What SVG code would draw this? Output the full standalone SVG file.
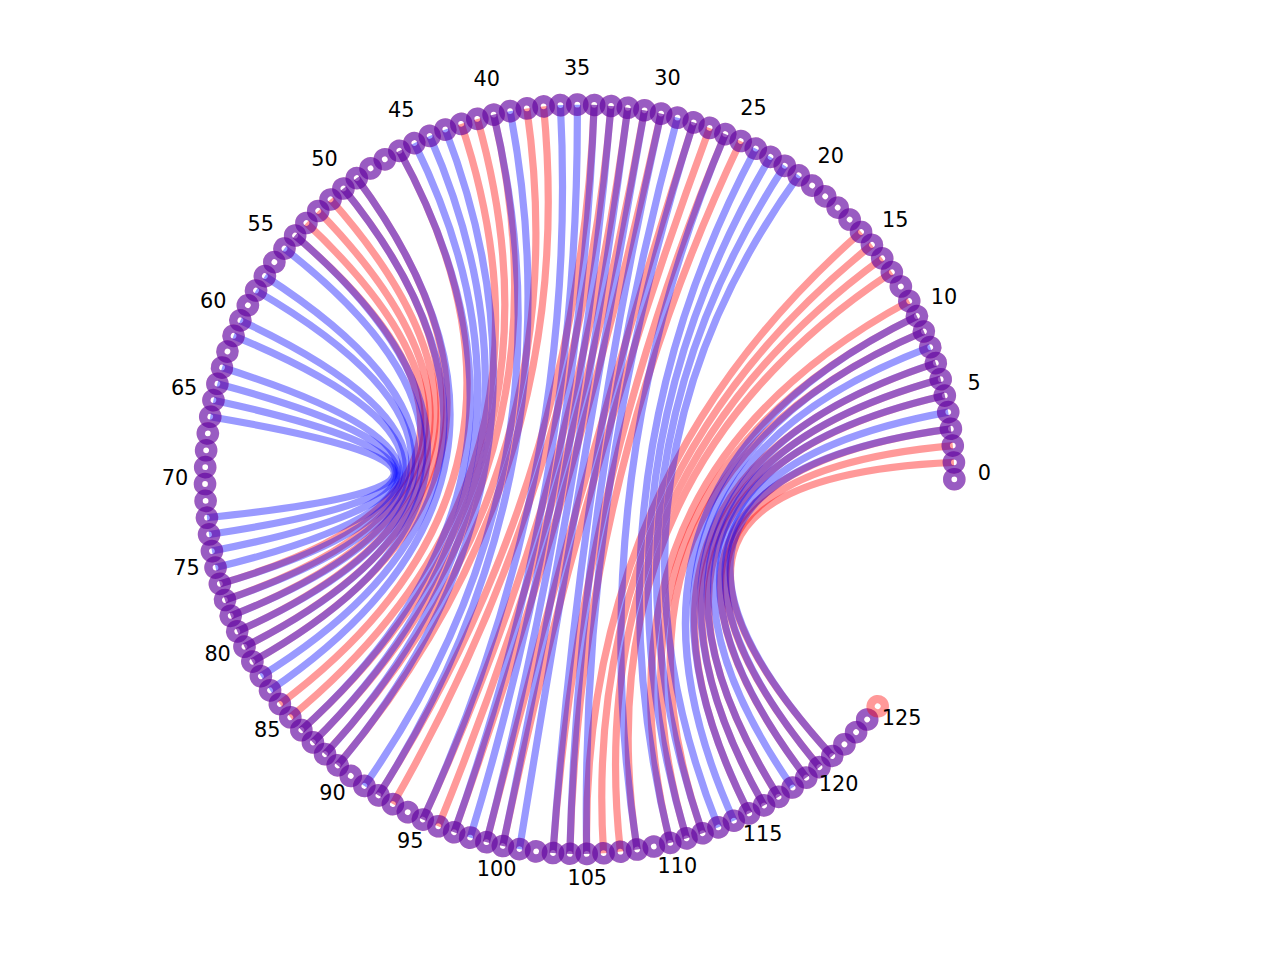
<svg xmlns="http://www.w3.org/2000/svg" xmlns:xlink="http://www.w3.org/1999/xlink" width="1280" height="960" viewBox="0 0 1280 960">
<style>
.r{fill:none;stroke:#ff0000;stroke-opacity:0.4;stroke-width:7.2}
.b{fill:none;stroke:#0000ff;stroke-opacity:0.4;stroke-width:7.2}
.nr{fill:none;stroke:#ff0000;stroke-opacity:0.4;stroke-width:8.4}
.nb{fill:none;stroke:#0000ff;stroke-opacity:0.4;stroke-width:8.4}
text{font-family:"DejaVu Sans","Liberation Sans",sans-serif;font-size:20.8px;fill:#000;text-anchor:middle}
</style>
<defs>
<g id="ring"><circle class="nr" cx="954.3" cy="479.3" r="7.1"/><circle class="nb" cx="954.3" cy="479.3" r="7.1"/></g>
<circle id="ringR" class="nr" cx="954.3" cy="479.3" r="7.1"/>
</defs>
<rect width="1280" height="960" fill="#ffffff"/>
<g id="connectors">
<g id="red-edges">
<path class="r" d="M295.15 235.56Q579.65 479.3 219.9 583.88"/>
<path class="r" d="M306.41 222.98Q579.65 479.3 224.98 599.98"/>
<path class="r" d="M318.24 210.94Q579.65 479.3 230.78 615.83"/>
<path class="r" d="M330.59 199.44Q579.65 479.3 237.27 631.41"/>
<path class="r" d="M343.45 188.5Q579.65 479.3 244.48 646.67"/>
<path class="r" d="M356.79 178.16Q579.65 479.3 252.35 661.6"/>
<path class="r" d="M399.41 150.87Q579.65 479.3 279.91 704.05"/>
<path class="r" d="M461.2 123.88Q579.65 479.3 290.34 717.32"/>
<path class="r" d="M477.33 118.9Q579.65 479.3 301.34 730.12"/>
<path class="r" d="M493.67 114.66Q579.65 479.3 312.94 742.39"/>
<path class="r" d="M526.83 108.4Q579.65 479.3 325.05 754.14"/>
<path class="r" d="M543.59 106.4Q579.65 479.3 337.69 765.33"/>
<path class="r" d="M594.18 104.94Q579.65 479.3 378.45 795.32"/>
<path class="r" d="M611.02 105.98Q579.65 479.3 392.88 804.07"/>
<path class="r" d="M627.81 107.77Q579.65 479.3 422.87 819.56"/>
<path class="r" d="M644.5 110.31Q579.65 479.3 438.36 826.28"/>
<path class="r" d="M661.05 113.61Q579.65 479.3 454.13 832.28"/>
<path class="r" d="M693.63 122.42Q579.65 479.3 486.41 842.15"/>
<path class="r" d="M709.59 127.92Q579.65 479.3 502.85 845.99"/>
<path class="r" d="M725.29 134.12Q579.65 479.3 552.96 852.99"/>
<path class="r" d="M740.68 141.04Q579.65 479.3 569.82 853.81"/>
<path class="r" d="M861.07 232Q579.65 479.3 586.7 853.88"/>
<path class="r" d="M871.92 244.93Q579.65 479.3 603.57 853.17"/>
<path class="r" d="M882.19 258.33Q579.65 479.3 620.38 851.72"/>
<path class="r" d="M891.83 272.19Q579.65 479.3 637.12 849.51"/>
<path class="r" d="M909.2 301.12Q579.65 479.3 670.2 842.84"/>
<path class="r" d="M916.9 316.15Q579.65 479.3 686.48 838.38"/>
<path class="r" d="M923.9 331.5Q579.65 479.3 702.55 833.21"/>
<path class="r" d="M935.81 363.08Q579.65 479.3 749.12 813.42"/>
<path class="r" d="M940.68 379.25Q579.65 479.3 764 805.44"/>
<path class="r" d="M944.83 395.61Q579.65 479.3 778.51 796.81"/>
<path class="r" d="M950.87 428.81Q579.65 479.3 806.27 777.62"/>
<path class="r" d="M952.77 445.58Q579.65 479.3 819.48 767.11"/>
<path class="r" d="M953.91 462.43Q579.65 479.3 832.2 756.02"/>
</g>
<g id="blue-edges">
<path class="b" d="M210.27 416.77Q579.65 479.3 206.98 517.7"/>
<path class="b" d="M213.46 400.2Q579.65 479.3 209.09 534.44"/>
<path class="b" d="M217.39 383.78Q579.65 479.3 211.94 551.08"/>
<path class="b" d="M222.06 367.56Q579.65 479.3 215.56 567.57"/>
<path class="b" d="M233.57 335.83Q579.65 479.3 219.9 583.88"/>
<path class="b" d="M240.38 320.39Q579.65 479.3 224.98 599.98"/>
<path class="b" d="M256.06 290.5Q579.65 479.3 230.78 615.83"/>
<path class="b" d="M264.89 276.12Q579.65 479.3 237.27 631.41"/>
<path class="b" d="M284.45 248.61Q579.65 479.3 244.48 646.67"/>
<path class="b" d="M295.15 235.56Q579.65 479.3 252.35 661.6"/>
<path class="b" d="M343.45 188.5Q579.65 479.3 260.9 676.16"/>
<path class="b" d="M356.79 178.16Q579.65 479.3 270.09 690.32"/>
<path class="b" d="M399.41 150.87Q579.65 479.3 301.34 730.12"/>
<path class="b" d="M414.38 143.08Q579.65 479.3 312.94 742.39"/>
<path class="b" d="M429.7 135.98Q579.65 479.3 325.05 754.14"/>
<path class="b" d="M445.31 129.57Q579.65 479.3 337.69 765.33"/>
<path class="b" d="M493.67 114.66Q579.65 479.3 364.41 785.95"/>
<path class="b" d="M510.18 111.16Q579.65 479.3 378.45 795.32"/>
<path class="b" d="M560.43 105.15Q579.65 479.3 422.87 819.56"/>
<path class="b" d="M577.3 104.66Q579.65 479.3 454.13 832.28"/>
<path class="b" d="M594.18 104.94Q579.65 479.3 470.15 837.59"/>
<path class="b" d="M611.02 105.98Q579.65 479.3 486.41 842.15"/>
<path class="b" d="M627.81 107.77Q579.65 479.3 502.85 845.99"/>
<path class="b" d="M644.5 110.31Q579.65 479.3 519.44 849.07"/>
<path class="b" d="M661.05 113.61Q579.65 479.3 552.96 852.99"/>
<path class="b" d="M677.44 117.64Q579.65 479.3 569.82 853.81"/>
<path class="b" d="M693.63 122.42Q579.65 479.3 586.7 853.88"/>
<path class="b" d="M725.29 134.12Q579.65 479.3 637.12 849.51"/>
<path class="b" d="M755.76 148.63Q579.65 479.3 670.2 842.84"/>
<path class="b" d="M770.47 156.9Q579.65 479.3 686.48 838.38"/>
<path class="b" d="M784.8 165.82Q579.65 479.3 702.55 833.21"/>
<path class="b" d="M798.71 175.38Q579.65 479.3 718.37 827.31"/>
<path class="b" d="M916.9 316.15Q579.65 479.3 733.9 820.71"/>
<path class="b" d="M923.9 331.5Q579.65 479.3 749.12 813.42"/>
<path class="b" d="M930.21 347.16Q579.65 479.3 764 805.44"/>
<path class="b" d="M935.81 363.08Q579.65 479.3 778.51 796.81"/>
<path class="b" d="M940.68 379.25Q579.65 479.3 792.6 787.53"/>
<path class="b" d="M944.83 395.61Q579.65 479.3 806.27 777.62"/>
<path class="b" d="M948.22 412.14Q579.65 479.3 819.48 767.11"/>
<path class="b" d="M950.87 428.81Q579.65 479.3 832.2 756.02"/>
</g>
</g>
<g id="nodes">
<g id="node-0"><use xlink:href="#ring"/><text x="984.3" y="480.1">0</text></g>
<g id="node-1"><use xlink:href="#ring" transform="rotate(-2.58 579.65 479.3)"/></g>
<g id="node-2"><use xlink:href="#ring" transform="rotate(-5.16 579.65 479.3)"/></g>
<g id="node-3"><use xlink:href="#ring" transform="rotate(-7.75 579.65 479.3)"/></g>
<g id="node-4"><use xlink:href="#ring" transform="rotate(-10.33 579.65 479.3)"/></g>
<g id="node-5"><use xlink:href="#ring" transform="rotate(-12.91 579.65 479.3)"/><text x="974.07" y="389.7">5</text></g>
<g id="node-6"><use xlink:href="#ring" transform="rotate(-15.49 579.65 479.3)"/></g>
<g id="node-7"><use xlink:href="#ring" transform="rotate(-18.07 579.65 479.3)"/></g>
<g id="node-8"><use xlink:href="#ring" transform="rotate(-20.65 579.65 479.3)"/></g>
<g id="node-9"><use xlink:href="#ring" transform="rotate(-23.24 579.65 479.3)"/></g>
<g id="node-10"><use xlink:href="#ring" transform="rotate(-25.82 579.65 479.3)"/><text x="943.91" y="303.88">10</text></g>
<g id="node-11"><use xlink:href="#ring" transform="rotate(-28.40 579.65 479.3)"/></g>
<g id="node-12"><use xlink:href="#ring" transform="rotate(-30.98 579.65 479.3)"/></g>
<g id="node-13"><use xlink:href="#ring" transform="rotate(-33.56 579.65 479.3)"/></g>
<g id="node-14"><use xlink:href="#ring" transform="rotate(-36.14 579.65 479.3)"/></g>
<g id="node-15"><use xlink:href="#ring" transform="rotate(-38.73 579.65 479.3)"/><text x="895.33" y="226.96">15</text></g>
<g id="node-16"><use xlink:href="#ring" transform="rotate(-41.31 579.65 479.3)"/></g>
<g id="node-17"><use xlink:href="#ring" transform="rotate(-43.89 579.65 479.3)"/></g>
<g id="node-18"><use xlink:href="#ring" transform="rotate(-46.47 579.65 479.3)"/></g>
<g id="node-19"><use xlink:href="#ring" transform="rotate(-49.05 579.65 479.3)"/></g>
<g id="node-20"><use xlink:href="#ring" transform="rotate(-51.63 579.65 479.3)"/><text x="830.8" y="162.84">20</text></g>
<g id="node-21"><use xlink:href="#ring" transform="rotate(-54.22 579.65 479.3)"/></g>
<g id="node-22"><use xlink:href="#ring" transform="rotate(-56.80 579.65 479.3)"/></g>
<g id="node-23"><use xlink:href="#ring" transform="rotate(-59.38 579.65 479.3)"/></g>
<g id="node-24"><use xlink:href="#ring" transform="rotate(-61.96 579.65 479.3)"/></g>
<g id="node-25"><use xlink:href="#ring" transform="rotate(-64.54 579.65 479.3)"/><text x="753.58" y="114.75">25</text></g>
<g id="node-26"><use xlink:href="#ring" transform="rotate(-67.12 579.65 479.3)"/></g>
<g id="node-27"><use xlink:href="#ring" transform="rotate(-69.71 579.65 479.3)"/></g>
<g id="node-28"><use xlink:href="#ring" transform="rotate(-72.29 579.65 479.3)"/></g>
<g id="node-29"><use xlink:href="#ring" transform="rotate(-74.87 579.65 479.3)"/></g>
<g id="node-30"><use xlink:href="#ring" transform="rotate(-77.45 579.65 479.3)"/><text x="667.57" y="85.13">30</text></g>
<g id="node-31"><use xlink:href="#ring" transform="rotate(-80.03 579.65 479.3)"/></g>
<g id="node-32"><use xlink:href="#ring" transform="rotate(-82.61 579.65 479.3)"/></g>
<g id="node-33"><use xlink:href="#ring" transform="rotate(-85.20 579.65 479.3)"/></g>
<g id="node-34"><use xlink:href="#ring" transform="rotate(-87.78 579.65 479.3)"/></g>
<g id="node-35"><use xlink:href="#ring" transform="rotate(-90.36 579.65 479.3)"/><text x="577.11" y="75.46">35</text></g>
<g id="node-36"><use xlink:href="#ring" transform="rotate(-92.94 579.65 479.3)"/></g>
<g id="node-37"><use xlink:href="#ring" transform="rotate(-95.52 579.65 479.3)"/></g>
<g id="node-38"><use xlink:href="#ring" transform="rotate(-98.10 579.65 479.3)"/></g>
<g id="node-39"><use xlink:href="#ring" transform="rotate(-100.69 579.65 479.3)"/></g>
<g id="node-40"><use xlink:href="#ring" transform="rotate(-103.27 579.65 479.3)"/><text x="486.78" y="86.26">40</text></g>
<g id="node-41"><use xlink:href="#ring" transform="rotate(-105.85 579.65 479.3)"/></g>
<g id="node-42"><use xlink:href="#ring" transform="rotate(-108.43 579.65 479.3)"/></g>
<g id="node-43"><use xlink:href="#ring" transform="rotate(-111.01 579.65 479.3)"/></g>
<g id="node-44"><use xlink:href="#ring" transform="rotate(-113.59 579.65 479.3)"/></g>
<g id="node-45"><use xlink:href="#ring" transform="rotate(-116.18 579.65 479.3)"/><text x="401.15" y="116.96">45</text></g>
<g id="node-46"><use xlink:href="#ring" transform="rotate(-118.76 579.65 479.3)"/></g>
<g id="node-47"><use xlink:href="#ring" transform="rotate(-121.34 579.65 479.3)"/></g>
<g id="node-48"><use xlink:href="#ring" transform="rotate(-123.92 579.65 479.3)"/></g>
<g id="node-49"><use xlink:href="#ring" transform="rotate(-126.50 579.65 479.3)"/></g>
<g id="node-50"><use xlink:href="#ring" transform="rotate(-129.09 579.65 479.3)"/><text x="324.53" y="166.01">50</text></g>
<g id="node-51"><use xlink:href="#ring" transform="rotate(-131.67 579.65 479.3)"/></g>
<g id="node-52"><use xlink:href="#ring" transform="rotate(-134.25 579.65 479.3)"/></g>
<g id="node-53"><use xlink:href="#ring" transform="rotate(-136.83 579.65 479.3)"/></g>
<g id="node-54"><use xlink:href="#ring" transform="rotate(-139.41 579.65 479.3)"/></g>
<g id="node-55"><use xlink:href="#ring" transform="rotate(-141.99 579.65 479.3)"/><text x="260.81" y="230.94">55</text></g>
<g id="node-56"><use xlink:href="#ring" transform="rotate(-144.58 579.65 479.3)"/></g>
<g id="node-57"><use xlink:href="#ring" transform="rotate(-147.16 579.65 479.3)"/></g>
<g id="node-58"><use xlink:href="#ring" transform="rotate(-149.74 579.65 479.3)"/></g>
<g id="node-59"><use xlink:href="#ring" transform="rotate(-152.32 579.65 479.3)"/></g>
<g id="node-60"><use xlink:href="#ring" transform="rotate(-154.90 579.65 479.3)"/><text x="213.21" y="308.46">60</text></g>
<g id="node-61"><use xlink:href="#ring" transform="rotate(-157.48 579.65 479.3)"/></g>
<g id="node-62"><use xlink:href="#ring" transform="rotate(-160.07 579.65 479.3)"/></g>
<g id="node-63"><use xlink:href="#ring" transform="rotate(-162.65 579.65 479.3)"/></g>
<g id="node-64"><use xlink:href="#ring" transform="rotate(-165.23 579.65 479.3)"/></g>
<g id="node-65"><use xlink:href="#ring" transform="rotate(-167.81 579.65 479.3)"/><text x="184.13" y="394.66">65</text></g>
<g id="node-66"><use xlink:href="#ring" transform="rotate(-170.39 579.65 479.3)"/></g>
<g id="node-67"><use xlink:href="#ring" transform="rotate(-172.97 579.65 479.3)"/></g>
<g id="node-68"><use xlink:href="#ring" transform="rotate(-175.56 579.65 479.3)"/></g>
<g id="node-69"><use xlink:href="#ring" transform="rotate(-178.14 579.65 479.3)"/></g>
<g id="node-70"><use xlink:href="#ring" transform="rotate(-180.72 579.65 479.3)"/><text x="175.03" y="485.18">70</text></g>
<g id="node-71"><use xlink:href="#ring" transform="rotate(-183.30 579.65 479.3)"/></g>
<g id="node-72"><use xlink:href="#ring" transform="rotate(-185.88 579.65 479.3)"/></g>
<g id="node-73"><use xlink:href="#ring" transform="rotate(-188.46 579.65 479.3)"/></g>
<g id="node-74"><use xlink:href="#ring" transform="rotate(-191.05 579.65 479.3)"/></g>
<g id="node-75"><use xlink:href="#ring" transform="rotate(-193.63 579.65 479.3)"/><text x="186.41" y="575.44">75</text></g>
<g id="node-76"><use xlink:href="#ring" transform="rotate(-196.21 579.65 479.3)"/></g>
<g id="node-77"><use xlink:href="#ring" transform="rotate(-198.79 579.65 479.3)"/></g>
<g id="node-78"><use xlink:href="#ring" transform="rotate(-201.37 579.65 479.3)"/></g>
<g id="node-79"><use xlink:href="#ring" transform="rotate(-203.95 579.65 479.3)"/></g>
<g id="node-80"><use xlink:href="#ring" transform="rotate(-206.54 579.65 479.3)"/><text x="217.64" y="660.87">80</text></g>
<g id="node-81"><use xlink:href="#ring" transform="rotate(-209.12 579.65 479.3)"/></g>
<g id="node-82"><use xlink:href="#ring" transform="rotate(-211.70 579.65 479.3)"/></g>
<g id="node-83"><use xlink:href="#ring" transform="rotate(-214.28 579.65 479.3)"/></g>
<g id="node-84"><use xlink:href="#ring" transform="rotate(-216.86 579.65 479.3)"/></g>
<g id="node-85"><use xlink:href="#ring" transform="rotate(-219.44 579.65 479.3)"/><text x="267.18" y="737.18">85</text></g>
<g id="node-86"><use xlink:href="#ring" transform="rotate(-222.03 579.65 479.3)"/></g>
<g id="node-87"><use xlink:href="#ring" transform="rotate(-224.61 579.65 479.3)"/></g>
<g id="node-88"><use xlink:href="#ring" transform="rotate(-227.19 579.65 479.3)"/></g>
<g id="node-89"><use xlink:href="#ring" transform="rotate(-229.77 579.65 479.3)"/></g>
<g id="node-90"><use xlink:href="#ring" transform="rotate(-232.35 579.65 479.3)"/><text x="332.5" y="800.49">90</text></g>
<g id="node-91"><use xlink:href="#ring" transform="rotate(-234.93 579.65 479.3)"/></g>
<g id="node-92"><use xlink:href="#ring" transform="rotate(-237.52 579.65 479.3)"/></g>
<g id="node-93"><use xlink:href="#ring" transform="rotate(-240.10 579.65 479.3)"/></g>
<g id="node-94"><use xlink:href="#ring" transform="rotate(-242.68 579.65 479.3)"/></g>
<g id="node-95"><use xlink:href="#ring" transform="rotate(-245.26 579.65 479.3)"/><text x="410.32" y="847.6">95</text></g>
<g id="node-96"><use xlink:href="#ring" transform="rotate(-247.84 579.65 479.3)"/></g>
<g id="node-97"><use xlink:href="#ring" transform="rotate(-250.42 579.65 479.3)"/></g>
<g id="node-98"><use xlink:href="#ring" transform="rotate(-253.01 579.65 479.3)"/></g>
<g id="node-99"><use xlink:href="#ring" transform="rotate(-255.59 579.65 479.3)"/></g>
<g id="node-100"><use xlink:href="#ring" transform="rotate(-258.17 579.65 479.3)"/><text x="496.69" y="876.15">100</text></g>
<g id="node-101"><use xlink:href="#ring" transform="rotate(-260.75 579.65 479.3)"/></g>
<g id="node-102"><use xlink:href="#ring" transform="rotate(-263.33 579.65 479.3)"/></g>
<g id="node-103"><use xlink:href="#ring" transform="rotate(-265.92 579.65 479.3)"/></g>
<g id="node-104"><use xlink:href="#ring" transform="rotate(-268.50 579.65 479.3)"/></g>
<g id="node-105"><use xlink:href="#ring" transform="rotate(-271.08 579.65 479.3)"/><text x="587.27" y="884.68">105</text></g>
<g id="node-106"><use xlink:href="#ring" transform="rotate(-273.66 579.65 479.3)"/></g>
<g id="node-107"><use xlink:href="#ring" transform="rotate(-276.24 579.65 479.3)"/></g>
<g id="node-108"><use xlink:href="#ring" transform="rotate(-278.82 579.65 479.3)"/></g>
<g id="node-109"><use xlink:href="#ring" transform="rotate(-281.41 579.65 479.3)"/></g>
<g id="node-110"><use xlink:href="#ring" transform="rotate(-283.99 579.65 479.3)"/><text x="677.45" y="872.75">110</text></g>
<g id="node-111"><use xlink:href="#ring" transform="rotate(-286.57 579.65 479.3)"/></g>
<g id="node-112"><use xlink:href="#ring" transform="rotate(-289.15 579.65 479.3)"/></g>
<g id="node-113"><use xlink:href="#ring" transform="rotate(-291.73 579.65 479.3)"/></g>
<g id="node-114"><use xlink:href="#ring" transform="rotate(-294.31 579.65 479.3)"/></g>
<g id="node-115"><use xlink:href="#ring" transform="rotate(-296.90 579.65 479.3)"/><text x="762.7" y="840.98">115</text></g>
<g id="node-116"><use xlink:href="#ring" transform="rotate(-299.48 579.65 479.3)"/></g>
<g id="node-117"><use xlink:href="#ring" transform="rotate(-302.06 579.65 479.3)"/></g>
<g id="node-118"><use xlink:href="#ring" transform="rotate(-304.64 579.65 479.3)"/></g>
<g id="node-119"><use xlink:href="#ring" transform="rotate(-307.22 579.65 479.3)"/></g>
<g id="node-120"><use xlink:href="#ring" transform="rotate(-309.80 579.65 479.3)"/><text x="838.69" y="790.96">120</text></g>
<g id="node-121"><use xlink:href="#ring" transform="rotate(-312.39 579.65 479.3)"/></g>
<g id="node-122"><use xlink:href="#ring" transform="rotate(-314.97 579.65 479.3)"/></g>
<g id="node-123"><use xlink:href="#ring" transform="rotate(-317.55 579.65 479.3)"/></g>
<g id="node-124"><use xlink:href="#ring" transform="rotate(-320.13 579.65 479.3)"/></g>
<g id="node-125"><use xlink:href="#ringR" transform="rotate(-322.71 579.65 479.3)"/><text x="901.58" y="725.23">125</text></g>
</g>
</svg>
